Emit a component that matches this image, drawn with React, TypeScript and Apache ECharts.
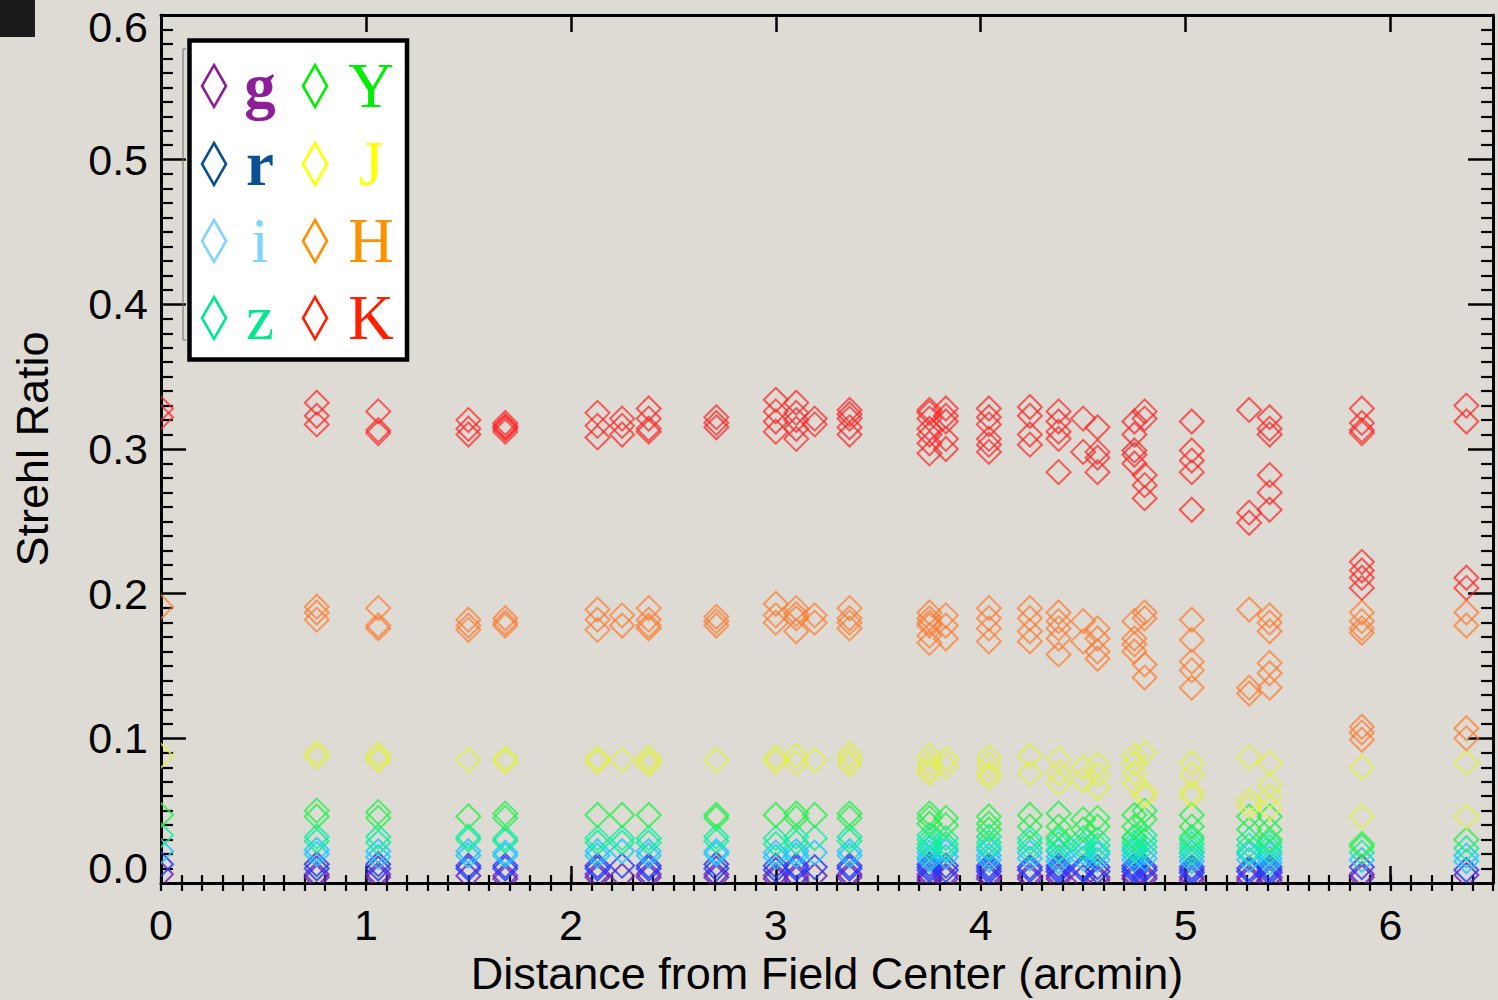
import React, { useEffect, useRef } from "react";
import * as echarts from "echarts";

// Distances of the stars from the field center (arcmin)
const STAR_X = [0.0, 0.76, 1.06, 1.5, 1.68, 2.13, 2.25, 2.38, 2.71, 3.0, 3.1, 3.19, 3.36, 3.75, 3.83, 4.04, 4.24, 4.38, 4.5, 4.57, 4.75, 4.8, 5.03, 5.31, 5.41, 5.86, 6.37];

// Strehl ratios per star, one list per filter
const K_VALUES = [
  [0.328, 0.322], [0.332, 0.323, 0.317], [0.326, 0.313, 0.311], [0.32, 0.314, 0.31], [0.318, 0.316, 0.314, 0.312, 0.315],
  [0.325, 0.316, 0.308], [0.321, 0.31, 0.316], [0.328, 0.321, 0.314, 0.312], [0.322, 0.318, 0.315], [0.334, 0.326, 0.319, 0.312],
  [0.332, 0.325, 0.314, 0.307, 0.32], [0.321, 0.317], [0.327, 0.321, 0.315, 0.31, 0.324], [0.327, 0.321, 0.314, 0.31, 0.304, 0.297, 0.325],
  [0.328, 0.319, 0.307, 0.3, 0.323], [0.328, 0.322, 0.317, 0.307, 0.303, 0.298], [0.329, 0.323, 0.31, 0.303], [0.326, 0.319, 0.312, 0.307, 0.284],
  [0.321, 0.298], [0.315, 0.298, 0.294, 0.284], [0.319, 0.31, 0.299, 0.296, 0.29], [0.326, 0.321, 0.282, 0.275, 0.266],
  [0.319, 0.299, 0.292, 0.284, 0.258], [0.327, 0.256, 0.249], [0.322, 0.314, 0.31, 0.282, 0.27, 0.258],
  [0.328, 0.318, 0.313, 0.311, 0.222, 0.216, 0.211, 0.204], [0.33, 0.319, 0.211, 0.204],
];
const H_VALUES = [
  [0.191], [0.191, 0.187, 0.182], [0.19, 0.178, 0.176], [0.182, 0.178, 0.175], [0.183, 0.18, 0.178],
  [0.189, 0.182, 0.175], [0.185, 0.178], [0.19, 0.182, 0.178, 0.176], [0.184, 0.181, 0.178], [0.193, 0.185, 0.18],
  [0.19, 0.183, 0.174, 0.186], [0.185, 0.18], [0.19, 0.183, 0.176, 0.18], [0.187, 0.183, 0.178, 0.171, 0.166, 0.18],
  [0.185, 0.178, 0.169], [0.19, 0.183, 0.176, 0.167], [0.19, 0.183, 0.174, 0.167], [0.187, 0.181, 0.176, 0.169, 0.158],
  [0.181, 0.167], [0.176, 0.169, 0.16, 0.155], [0.181, 0.169, 0.165, 0.16], [0.187, 0.183, 0.151, 0.142],
  [0.182, 0.168, 0.153, 0.147, 0.135], [0.189, 0.135, 0.131], [0.185, 0.18, 0.174, 0.152, 0.145, 0.135],
  [0.187, 0.181, 0.176, 0.173, 0.108, 0.104, 0.099], [0.187, 0.178, 0.107, 0.1],
];
const J_VALUES = [
  [0.088], [0.09, 0.087], [0.089, 0.086, 0.085], [0.085], [0.086, 0.084],
  [0.086, 0.084], [0.085], [0.087, 0.084, 0.082], [0.085], [0.087, 0.084],
  [0.088, 0.083], [0.085], [0.089, 0.085, 0.082], [0.088, 0.083, 0.079, 0.076],
  [0.086, 0.081], [0.087, 0.082, 0.076, 0.073], [0.088, 0.076], [0.086, 0.076, 0.069],
  [0.08, 0.071], [0.082, 0.075, 0.066], [0.088, 0.083, 0.076, 0.069], [0.09, 0.063, 0.06],
  [0.083, 0.075, 0.063, 0.06], [0.087, 0.057, 0.053], [0.083, 0.068, 0.06, 0.052],
  [0.08, 0.046], [0.083, 0.046],
];
const Y_VALUES = [
  [0.047], [0.05, 0.046], [0.049, 0.045], [0.046], [0.048, 0.045],
  [0.047], [0.047], [0.047], [0.047, 0.045], [0.047],
  [0.048, 0.045], [0.047], [0.048, 0.045], [0.048, 0.045, 0.041],
  [0.045, 0.04], [0.046, 0.041, 0.037], [0.047, 0.039], [0.048, 0.039, 0.032],
  [0.044, 0.037], [0.045, 0.039], [0.047, 0.039, 0.031], [0.05, 0.044],
  [0.047, 0.039, 0.032], [0.046, 0.037], [0.046, 0.037, 0.03],
  [0.027, 0.025], [0.03],
];
const Z_VALUES = [
  [0.033], [0.032, 0.029], [0.032, 0.028], [0.032, 0.03], [0.031, 0.029],
  [0.031, 0.028], [0.031, 0.028], [0.031, 0.028], [0.032, 0.029], [0.031, 0.027],
  [0.032, 0.028], [0.031], [0.032, 0.029], [0.033, 0.03, 0.027, 0.024],
  [0.031, 0.027, 0.024], [0.032, 0.028, 0.025], [0.031, 0.028, 0.024], [0.03, 0.027, 0.023],
  [0.031, 0.027, 0.024], [0.03, 0.026, 0.022], [0.032, 0.028, 0.025, 0.022], [0.033, 0.029, 0.025],
  [0.03, 0.027, 0.024, 0.021], [0.03, 0.026, 0.022], [0.028, 0.025, 0.022],
  [0.021], [0.024],
];
const I_VALUES = [
  [0.022], [0.023, 0.02], [0.022, 0.018], [0.022, 0.019], [0.021, 0.019],
  [0.022, 0.019], [0.022], [0.022, 0.019], [0.022, 0.02], [0.021, 0.018],
  [0.022, 0.019], [0.021], [0.022, 0.019], [0.024, 0.021, 0.018, 0.016],
  [0.022, 0.018], [0.023, 0.019, 0.016], [0.021, 0.017], [0.022, 0.018, 0.015],
  [0.021, 0.017], [0.02, 0.016], [0.023, 0.019, 0.016], [0.021, 0.017],
  [0.021, 0.018, 0.015], [0.02, 0.016], [0.02, 0.017, 0.014],
  [0.016], [0.019, 0.015],
];
const R_VALUES = [
  [0.013], [0.013, 0.01], [0.013, 0.01], [0.012, 0.01], [0.012, 0.01],
  [0.012, 0.01], [0.012], [0.012, 0.01], [0.013, 0.01], [0.012, 0.009],
  [0.012, 0.01], [0.011], [0.012, 0.01], [0.013, 0.011, 0.009],
  [0.012, 0.009], [0.012, 0.01, 0.008], [0.011, 0.009], [0.012, 0.01, 0.008],
  [0.011, 0.009], [0.011, 0.008], [0.012, 0.01, 0.008], [0.011, 0.009],
  [0.011, 0.009, 0.007], [0.01, 0.008], [0.011, 0.009, 0.007],
  [0.011], [0.009],
];
const G_VALUES = [
  [0.006], [0.006, 0.004], [0.006, 0.004], [0.005], [0.005, 0.003],
  [0.006, 0.004], [0.005], [0.006, 0.004], [0.006, 0.004], [0.005, 0.003],
  [0.005, 0.003], [0.005], [0.006, 0.004], [0.006, 0.004, 0.002],
  [0.005, 0.003], [0.005, 0.003], [0.005, 0.003], [0.005, 0.003],
  [0.004], [0.004, 0.002], [0.005, 0.003], [0.005, 0.003],
  [0.004, 0.002], [0.004, 0.002], [0.004, 0.002],
  [0.006, 0.004], [0.0055],
];

const BAND_NAMES = ["g", "r", "i", "z", "Y", "J", "H", "K"];
const BAND_VALUES = [G_VALUES, R_VALUES, I_VALUES, Z_VALUES, Y_VALUES, J_VALUES, H_VALUES, K_VALUES];
const PLOT_COLORS = ["#6a22c0", "#2438ff", "#18c8ff", "#10eea0", "#28f04e", "#e0f048", "#ff7a2e", "#ff2424"];
const LEGEND_COLORS = ["#8e1e98", "#0a5092", "#80d4ff", "#00e88e", "#00ee00", "#ffff00", "#ff9000", "#ff2000"];

const X_TICKS = [0, 1, 2, 3, 4, 5, 6];
const Y_TICKS = [0.0, 0.1, 0.2, 0.3, 0.4, 0.5, 0.6];

const SANS = "'Liberation Sans', Arial, Helvetica, sans-serif";
const SERIF = "'Liberation Serif', 'Times New Roman', serif";

function toPoints(values: number[][]) {
  const out: number[][] = [];
  values.forEach((arr, i) => arr.forEach((v) => out.push([STAR_X[i], v])));
  return out;
}

export default function App() {
  const ref = useRef<HTMLDivElement>(null);

  useEffect(() => {
    if (!ref.current) return;
    const chart = echarts.init(ref.current, null, { renderer: "svg" });

    const series = BAND_NAMES.map((name, b) => ({
      type: "custom",
      name,
      clip: true,
      silent: true,
      xAxisIndex: 0,
      yAxisIndex: 0,
      data: toPoints(BAND_VALUES[b]),
      encode: { x: 0, y: 1 },
      renderItem: (params: any, api: any) => {
        const p = api.coord([api.value(0), api.value(1)]);
        const h = 12;
        return {
          type: "polygon",
          shape: { points: [[p[0], p[1] - h], [p[0] + h, p[1]], [p[0], p[1] + h], [p[0] - h, p[1]]] },
          style: { fill: "none", stroke: PLOT_COLORS[b], lineWidth: 2, opacity: b >= 6 ? 0.72 : 0.82 },
        };
      },
    }));

    const axisLine = { show: true, onZero: false, lineStyle: { color: "#000", width: 3 } };
    const xMaxTick = (pos: string) => ({
      type: "value", min: 0, max: 6.5, interval: 1, position: pos,
      axisLine, splitLine: { show: false },
      axisTick: { show: true, inside: true, length: 17, lineStyle: { color: "#000", width: 2.5 } },
      axisLabel: { show: false },
    });
    const xMinTick = (pos: string) => ({
      type: "value", min: 0, max: 6.5, interval: 0.1, position: pos,
      axisLine: { show: false }, splitLine: { show: false },
      axisTick: { show: true, inside: true, length: 8, lineStyle: { color: "#000", width: 2.2 } },
      axisLabel: { show: false },
    });

    const bottomMain: any = xMaxTick("bottom");
    bottomMain.axisLabel = {
      show: true, fontSize: 43, color: "#000", fontFamily: SANS, margin: 20,
      formatter: (v: number) => (X_TICKS.includes(v) ? String(v) : ""),
    };
    bottomMain.name = "Distance from Field Center (arcmin)";
    bottomMain.nameLocation = "middle";
    bottomMain.nameGap = 68;
    bottomMain.nameTextStyle = { fontSize: 45, color: "#000", fontFamily: SANS };

    const yAxisBase = (pos: string) => ({
      type: "value", min: 0, max: 0.6, interval: 0.1, position: pos,
      axisLine, splitLine: { show: false },
      axisTick: { show: true, inside: true, length: 25, lineStyle: { color: "#000", width: 2.5 } },
      minorTick: { show: true, inside: true, splitNumber: 10, length: 12, lineStyle: { color: "#000", width: 2.2 } },
      axisLabel: { show: false },
    });
    const leftY: any = yAxisBase("left");
    leftY.axisLabel = {
      show: true, margin: 13, color: "#000", fontSize: 43, fontFamily: SANS,
      formatter: (v: number) => {
        const idx = Y_TICKS.findIndex((t) => Math.abs(t - v) < 1e-6);
        if (idx < 0) return "";
        const s = Y_TICKS[idx].toFixed(1);
        if (idx === 0) return "{lo|" + s + "}";
        if (idx === Y_TICKS.length - 1) return "{hi|" + s + "}";
        return "{n|" + s + "}";
      },
      rich: {
        n: { fontSize: 43, fontFamily: SANS, color: "#000" },
        lo: { fontSize: 43, fontFamily: SANS, color: "#000", padding: [0, 0, 30, 0] },
        hi: { fontSize: 43, fontFamily: SANS, color: "#000", padding: [24, 0, 0, 0] },
      },
    };
    leftY.name = "Strehl Ratio";
    leftY.nameLocation = "middle";
    leftY.nameGap = 106;
    leftY.nameTextStyle = { fontSize: 45, color: "#000", fontFamily: SANS };

    const legendRows = [0, 1, 2, 3];
    const rowY = [86, 164, 241, 318];
    const legendEls: any[] = [
      { type: "rect", shape: { x: 189.5, y: 40.5, width: 217.5, height: 319 }, style: { fill: "#ffffff", stroke: "#000", lineWidth: 4.5 }, z: 100 },
    ];
    legendRows.forEach((r) => {
      [0, 1].forEach((c) => {
        const b = c * 4 + r;
        const dx = c === 0 ? 214 : 315;
        const cy = rowY[r];
        legendEls.push({
          type: "polygon",
          shape: { points: [[dx, cy - 21], [dx + 12, cy], [dx, cy + 21], [dx - 12, cy]] },
          style: { fill: "none", stroke: LEGEND_COLORS[b], lineWidth: 2.6 },
          z: 101,
        });
        legendEls.push({
          type: "text",
          x: c === 0 ? 260 : 371,
          y: cy,
          style: {
            text: BAND_NAMES[b], fill: LEGEND_COLORS[b], font: (b < 2 ? "bold " : "") + "63px " + SERIF,
            align: "center", verticalAlign: "middle",
          },
          z: 101,
        });
      });
    });

    chart.setOption({
      animation: false,
      backgroundColor: "transparent",
      grid: { left: 161, top: 15, right: 5, bottom: 117, containLabel: false, outerBoundsMode: "none" },
      xAxis: [bottomMain, xMinTick("bottom"), xMaxTick("top"), xMinTick("top")],
      yAxis: [leftY, yAxisBase("right")],
      series,
      graphic: [
        { type: "rect", shape: { x: 0, y: 0, width: 35, height: 37 }, style: { fill: "#1b1b1b" }, z: 100 },
        { type: "polyline", shape: { points: [[186, 49], [183, 49], [183, 340], [186, 340]] }, style: { stroke: "#6a6a6a", lineWidth: 1, fill: "none" }, z: 99 },
        ...legendEls,
      ],
    } as any);

    return () => chart.dispose();
  }, []);

  return (
    <div
      ref={ref}
      style={{ position: "fixed", left: 0, top: 0, width: 1498, height: 1000, background: "#dedbd5" }}
    />
  );
}
